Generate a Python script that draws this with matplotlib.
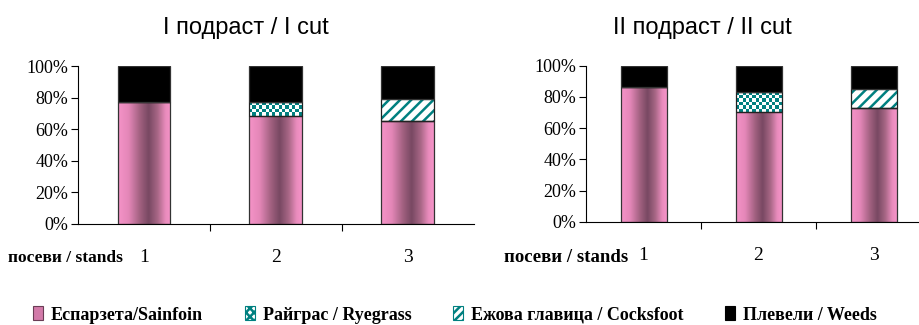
import numpy as np
import matplotlib
matplotlib.use("Agg")
import matplotlib.pyplot as plt
from matplotlib.colors import LinearSegmentedColormap, ListedColormap
from matplotlib.patches import Patch
from matplotlib.ticker import FuncFormatter

# share of each component in the stand (%), cut I and cut II
stands = ["1", "2", "3"]
sainfoin_1 = [77.4, 68.4, 65.4]
ryegrass_1 = [0.0, 9.0, 0.0]
cocksfoot_1 = [0.0, 0.0, 13.6]
weeds_1 = [22.6, 22.6, 21.0]

sainfoin_2 = [86.2, 70.1, 72.7]
ryegrass_2 = [0.0, 13.2, 0.0]
cocksfoot_2 = [0.0, 0.0, 12.6]
weeds_2 = [13.8, 16.7, 14.7]

titles = ["I подраст / I cut", "II подраст / II cut"]
legend_labels = ["Еспарзета/Sainfoin", "Райграс / Ryegrass",
                 "Ежова главица / Cocksfoot", "Плевели / Weeds"]

TEAL = "#008080"
SERIF = ["Liberation Serif", "DejaVu Serif"]
SANS = ["Liberation Sans", "DejaVu Sans"]

pink_cmap = LinearSegmentedColormap.from_list(
    "sainfoin",
    [(0.0, "#f593c8"), (0.2, "#e487b8"), (0.42, "#a0607f"),
     (0.58, "#784862"), (0.75, "#a86786"), (0.9, "#ea8cbd"), (1.0, "#f593c8")])
check_cmap = ListedColormap(["white", TEAL])

plt.rcParams["hatch.linewidth"] = 1.8

fig = plt.figure(figsize=(9.2, 3.25), dpi=100)
ax1 = fig.add_axes([0.0848, 0.3108, 0.430, 0.486])
ax2 = fig.add_axes([0.637, 0.3178, 0.375, 0.480])

x = np.arange(len(stands))
width = 0.4


def checker(ax, patch, cell=3.3):
    (x0, y0), (x1, y1) = patch.get_bbox().get_points()
    p0 = ax.transData.transform((x0, y0))
    p1 = ax.transData.transform((x1, y1))
    nx = max(1, int(round(abs(p1[0] - p0[0]) / cell)))
    ny = max(1, int(round(abs(p1[1] - p0[1]) / cell)))
    grid = np.indices((ny, nx)).sum(axis=0) % 2
    ax.imshow(grid, cmap=check_cmap, extent=(x0, x1, y0, y1), origin="lower",
              interpolation="nearest", aspect="auto", zorder=2)


def gradient(ax, patch):
    (x0, y0), (x1, y1) = patch.get_bbox().get_points()
    ramp = np.linspace(0, 1, 256).reshape(1, -1)
    ax.imshow(ramp, cmap=pink_cmap, extent=(x0, x1, y0, y1),
              interpolation="bicubic", aspect="auto", zorder=2)


def draw_stack(ax, sainfoin, ryegrass, cocksfoot, weeds, title, tx):
    ax.set_xlim(-0.5, 2.5)
    ax.set_ylim(0, 100)
    bottom = np.zeros(len(x))

    bars = ax.bar(x, sainfoin, width, bottom=bottom, color="none",
                  edgecolor="#333333", linewidth=0.9, zorder=3)
    for b in bars:
        gradient(ax, b)
    bottom += sainfoin

    bars = ax.bar(x, ryegrass, width, bottom=bottom, color="none",
                  edgecolor="#222222", linewidth=0.9, zorder=3)
    for b, v in zip(bars, ryegrass):
        if v > 0:
            checker(ax, b)
    bottom += ryegrass

    ax.bar(x, cocksfoot, width, bottom=bottom, color="white", edgecolor=TEAL,
           hatch="///", linewidth=0, zorder=2)
    ax.bar(x, cocksfoot, width, bottom=bottom, color="none",
           edgecolor="#222222", linewidth=0.9, zorder=3)
    bottom += cocksfoot

    ax.bar(x, weeds, width, bottom=bottom, color="black",
           edgecolor="#333333", linewidth=0.9, zorder=3)

    ax.set_xlim(-0.5, 2.5)
    ax.set_ylim(0, 100)
    ax.set_yticks(np.arange(0, 101, 20))
    ax.yaxis.set_major_formatter(FuncFormatter(lambda v, p: "%d%%" % v))
    ax.set_xticks([0.5, 1.5])
    ax.set_xticklabels([])
    ax.set_xticks(x, minor=True)
    ax.set_xticklabels(stands, minor=True, fontsize=14, family=SERIF)
    ax.tick_params(axis="x", which="minor", length=0, pad=18)
    ax.tick_params(axis="x", which="major", direction="out", length=5, width=0.8)
    ax.tick_params(axis="y", direction="out", length=5, width=0.8, pad=2)
    for lab in ax.get_yticklabels():
        lab.set_family(SERIF)
        lab.set_fontsize(13)
    for s in ("top", "right"):
        ax.spines[s].set_visible(False)
    for s in ("left", "bottom"):
        ax.spines[s].set_linewidth(0.8)
    fig.text(tx, 1 - 28 / 325, title, ha="center", va="center",
             fontsize=17, family=SANS)


draw_stack(ax1, sainfoin_1, ryegrass_1, cocksfoot_1, weeds_1, titles[0], 246 / 920)
draw_stack(ax2, sainfoin_2, ryegrass_2, cocksfoot_2, weeds_2, titles[1], 702 / 920)

for xr, fs in ((123 / 920, 12.5), (628 / 920, 13.5)):
    fig.text(xr, 1 - 258 / 325, "посеви / stands", ha="right", va="center",
             fontsize=fs, fontweight="bold", family=SERIF)

handles = [
    Patch(facecolor="#d27aa9", edgecolor="#6a3d55", linewidth=0.8),
    Patch(facecolor="white", edgecolor=TEAL, hatch="xxxx", linewidth=0.8),
    Patch(facecolor="white", edgecolor=TEAL, hatch="////", linewidth=0.8),
    Patch(facecolor="black", edgecolor="black", linewidth=0.8),
]
fig.legend(handles, legend_labels, loc="center", bbox_to_anchor=(455 / 920, 1 - 315 / 325),
           ncol=4, frameon=False, handlelength=0.55, handleheight=0.8,
           handletextpad=0.45, columnspacing=2.3,
           prop={"family": SERIF, "weight": "bold", "size": 13})

fig.savefig("out.png", dpi=100)
